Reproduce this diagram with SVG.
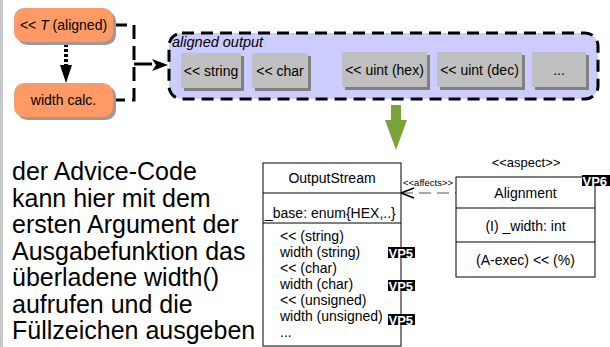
<svg xmlns="http://www.w3.org/2000/svg" width="610" height="347" viewBox="0 0 610 347">
<defs>
<style>
text{font-family:"Liberation Sans",Arial,sans-serif;fill:#000}
.orange{fill:#ff9966}
.shadow{fill:#9a9a9a}
.gbox{fill:#c0c0c0}
.gsh{fill:#808080}
.t14{font-size:14px}
.mid{text-anchor:middle}
.cls{fill:#fff;stroke:#000;stroke-width:1}
.vp rect{fill:#000}
.vp text{fill:#fff;font-weight:bold;font-size:13px}
</style>
</defs>
<rect x="0" y="0" width="3" height="347" fill="#c8c8c8"/>

<g id="connectors">
<path d="M113,25 H134 V100 H113" fill="none" stroke="#000" stroke-width="3" stroke-dasharray="14 7"/>
<path d="M134,64 H152" fill="none" stroke="#000" stroke-width="3"/>
<path d="M152,59 L168,65 L152,71 L156,65 Z" fill="#000"/>
<path d="M66,44 V66" fill="none" stroke="#000" stroke-width="4" stroke-dasharray="3 2"/>
<path d="M60,65 L72,65 L66,83 Z" fill="#000"/>
<path d="M401,193 H456" fill="none" stroke="#555" stroke-width="1.2" stroke-dasharray="12 6"/>
<path d="M414,188 L401,193 L414,198" fill="none" stroke="#000" stroke-width="1.5"/>
<text x="403" y="186" font-size="9.5">&lt;&lt;affects&gt;&gt;</text>
<polygon points="391,105 401,105 401,120 407,120 396,150 385,120 391,120" fill="#7aa33c"/>
</g>

<g id="node-aligned">
<rect x="17" y="11" width="99" height="34" rx="10" class="shadow"/>
<rect x="14" y="8" width="99" height="34" rx="10" class="orange"/>
<text x="63.5" y="30" class="t14 mid">&lt;&lt; <tspan font-style="italic">T</tspan> (aligned)</text>
</g>
<g id="node-width-calc">
<rect x="17" y="86" width="99" height="34" rx="10" class="shadow"/>
<rect x="14" y="83" width="99" height="34" rx="10" class="orange"/>
<text x="63.5" y="105" class="t14 mid">width calc.</text>
</g>

<g id="group-aligned-output">
<rect x="169" y="33" width="429" height="66" rx="13" fill="#ccccff" stroke="#000" stroke-width="3" stroke-dasharray="12 7"/>
<text x="172" y="47" font-size="14.5" font-style="italic">aligned output</text>
</g>
<g id="out-string">
<rect x="184" y="56" width="60" height="35" class="gsh"/>
<rect x="181" y="53" width="60" height="35" class="gbox"/>
<text x="211" y="76" class="t14 mid">&lt;&lt; string</text>
</g>
<g id="out-char">
<rect x="255" y="56" width="56" height="35" class="gsh"/>
<rect x="252" y="53" width="56" height="35" class="gbox"/>
<text x="280" y="76" class="t14 mid">&lt;&lt; char</text>
</g>
<g id="out-hex">
<rect x="345" y="55" width="85" height="35" class="gsh"/>
<rect x="342" y="52" width="85" height="35" class="gbox"/>
<text x="384.5" y="75" class="t14 mid">&lt;&lt; uint (hex)</text>
</g>
<g id="out-dec">
<rect x="440" y="55" width="85" height="35" class="gsh"/>
<rect x="437" y="52" width="85" height="35" class="gbox"/>
<text x="479.5" y="75" class="t14 mid">&lt;&lt; uint (dec)</text>
</g>
<g id="out-more">
<rect x="535" y="55" width="54" height="35" class="gsh"/>
<rect x="532" y="52" width="54" height="35" class="gbox"/>
<text x="559" y="75" class="t14 mid">...</text>
</g>

<g id="class-outputstream">
<rect x="263" y="163" width="138" height="183" class="cls"/>
<line x1="263" y1="193" x2="401" y2="193" stroke="#000"/>
<line x1="263" y1="223" x2="401" y2="223" stroke="#000"/>
<text x="332" y="183" class="t14 mid">OutputStream</text>
<text x="265" y="218" class="t14">_base: enum{HEX,..}</text>
<text x="280" y="241" class="t14">&lt;&lt; (string)</text>
<text x="280" y="257" class="t14">width (string)</text>
<text x="280" y="273" class="t14">&lt;&lt; (char)</text>
<text x="280" y="289" class="t14">width (char)</text>
<text x="280" y="305" class="t14">&lt;&lt; (unsigned)</text>
<text x="280" y="321" class="t14">width (unsigned)</text>
<text x="280" y="337" class="t14">...</text>
<g class="vp"><rect x="388" y="247" width="27" height="11"/><text x="388.5" y="257.5">VP5</text></g>
<g class="vp"><rect x="388" y="280" width="27" height="11"/><text x="388.5" y="290.5">VP5</text></g>
<g class="vp"><rect x="388" y="314" width="27" height="11"/><text x="388.5" y="324.5">VP5</text></g>
</g>

<g id="class-alignment">
<text x="526" y="167" font-size="13" class="mid">&lt;&lt;aspect&gt;&gt;</text>
<rect x="456" y="177" width="139" height="100" class="cls"/>
<line x1="456" y1="208" x2="595" y2="208" stroke="#000"/>
<line x1="456" y1="242" x2="595" y2="242" stroke="#000"/>
<text x="525.5" y="198" class="t14 mid">Alignment</text>
<text x="525.5" y="231" class="t14 mid">(I) _width: int</text>
<text x="525.5" y="265" class="t14 mid">(A-exec) &lt;&lt; (%)</text>
<g class="vp"><rect x="582" y="175" width="28" height="11"/><text x="582.5" y="185.5">VP6</text></g>
</g>

<g id="note">
<text font-size="25">
<tspan x="12" y="180">der Advice-Code</tspan>
<tspan x="12" y="206.5">kann hier mit dem</tspan>
<tspan x="12" y="233">ersten Argument der</tspan>
<tspan x="12" y="259.5">Ausgabefunktion das</tspan>
<tspan x="12" y="286">überladene width()</tspan>
<tspan x="12" y="312.5">aufrufen und die</tspan>
<tspan x="12" y="339">Füllzeichen ausgeben</tspan>
</text>
</g>
</svg>
